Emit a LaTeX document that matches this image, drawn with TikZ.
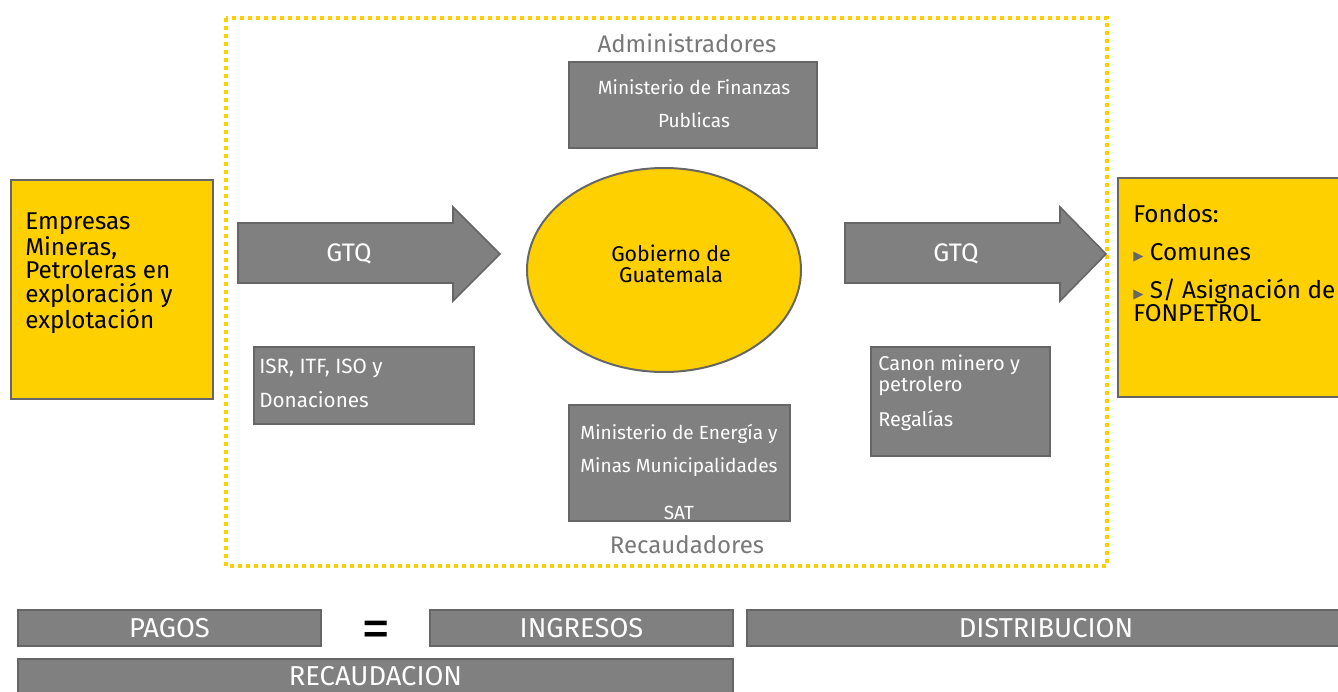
\documentclass[tikz,border=0pt]{standalone}
\usepackage{fontspec}
\setmainfont{Fira Sans}
\newfontfamily\symfont{DejaVu Sans}
\usetikzlibrary{positioning}
\usetikzlibrary{shapes.geometric}

\definecolor{eyyellow}{RGB}{255,208,0}
\definecolor{boxgray}{RGB}{128,128,128}
\definecolor{edgegray}{RGB}{102,102,102}
\definecolor{labelgray}{RGB}{120,120,120}

\newcommand{\bul}{{\color{edgegray}\symfont\fontsize{10}{10}\selectfont ▶}}

\begin{document}
\begin{tikzpicture}[x=0.75pt,y=-0.75pt,
    graybox/.style={draw=edgegray, line width=1.5pt, fill=boxgray, inner sep=0pt},
    yellowbox/.style={draw=edgegray, line width=1.5pt, fill=eyyellow, inner sep=0pt},
    wtext/.style={text=white, inner sep=0pt, font=\fontsize{14.3}{25}\selectfont},
    bigtext/.style={inner sep=0pt, font=\fontsize{18.2}{17.5}\selectfont},
    bartext/.style={text=white, font=\fontsize{20.5}{20.5}\selectfont}]

    \useasboundingbox (0,0) rectangle (1338,692);

    % dotted frame
    \draw[eyyellow, line width=2.6pt, dash pattern=on 3pt off 3pt] (226,18) rectangle (1107,566);

    % left and right boxes
    \node[yellowbox, minimum width=151.5pt, minimum height=164.25pt] (emp) at (112,289.5) {};
    \node[bigtext, anchor=north west, align=left] (emptxt) at (25,213)
      {Empresas\\Mineras,\\Petroleras en\\exploración y\\explotación};
    \node[yellowbox, minimum width=171pt, minimum height=164.25pt] (fon) at (1232,287.5) {};
    \node[bigtext, anchor=north west, align=left] (fontxt) at (1133,204)
      {Fondos:\\[11pt]\bul\ Comunes\\[11pt]\bul\ S/ Asignación de\\FONPETROL};

    % arrows
    \filldraw[fill=boxgray, draw=edgegray, line width=1.2pt]
      (238,223) -- (453,223) -- (453,207) -- (500,254) -- (453,301) -- (453,283) -- (238,283) -- cycle;
    \node[bartext, font=\fontsize{19}{19}\selectfont] (gtqa) at (349,254) {GTQ};
    \filldraw[fill=boxgray, draw=edgegray, line width=1.2pt]
      (845,223) -- (1060,223) -- (1060,207) -- (1106,254) -- (1060,301) -- (1060,283) -- (845,283) -- cycle;
    \node[bartext, font=\fontsize{19}{19}\selectfont] (gtqb) at (956,254) {GTQ};

    % gobierno
    \node[ellipse, draw=edgegray, line width=1.5pt, fill=eyyellow,
      minimum width=205.5pt, minimum height=153pt] (gob) at (664,270) {};
    \node[inner sep=0pt, align=center, font=\fontsize{16}{16}\selectfont] (gobtxt) at (671,264)
      {Gobierno de\\Guatemala};

    % administradores
    \node[text=labelgray, font=\fontsize{18}{18}\selectfont] (adm) at (687,43) {Administradores};
    \node[graybox, minimum width=186pt, minimum height=64.5pt] (minfin) at (693,105) {};
    \node[wtext, align=center, anchor=north] (minfintxt) at (694,79)
      {Ministerio de Finanzas\\Publicas};

    % recaudadores
    \node[graybox, minimum width=165.75pt, minimum height=87pt] (mem) at (679.5,463) {};
    \node[wtext, align=center, anchor=north] (memtxt) at (679,424)
      {Ministerio de Energía y\\Minas Municipalidades\\[10pt]SAT};
    \node[text=labelgray, font=\fontsize{18}{18}\selectfont] (rec) at (687,545) {Recaudadores};

    % impuestos y canon
    \node[graybox, minimum width=165pt, minimum height=57.75pt] (isr) at (364,385.5) {};
    \node[wtext, align=left, anchor=north west, font=\fontsize{15.5}{25}\selectfont] (isrtxt) at (259,359)
      {ISR, ITF, ISO y\\Donaciones};
    \node[graybox, minimum width=134.25pt, minimum height=81.75pt] (canon) at (960.5,401.5) {};
    \node[wtext, align=left, anchor=north west, font=\fontsize{15}{11.5}\selectfont] (canontxt) at (878,355)
      {Canon minero y\\petrolero\\[10pt]Regalías};

    % bottom bars
    \node[graybox, minimum width=227.25pt, minimum height=27pt] (pagos) at (169.5,628) {};
    \node[bartext] at (pagos) {PAGOS};
    \node[inner sep=0pt, font=\fontsize{44}{44}\selectfont] (eq) at (376,635) {=};
    \node[graybox, minimum width=227.25pt, minimum height=27pt] (ing) at (581.5,628) {};
    \node[bartext] at (ing) {INGRESOS};
    \node[graybox, minimum width=448.5pt, minimum height=27pt] (dist) at (1046,628) {};
    \node[bartext] at (dist) {DISTRIBUCION};
    \node[graybox, minimum width=536.25pt, minimum height=28.5pt] (recau) at (375.5,678) {};
    \node[bartext] at (375.5,676) {RECAUDACION};
\end{tikzpicture}
\end{document}
